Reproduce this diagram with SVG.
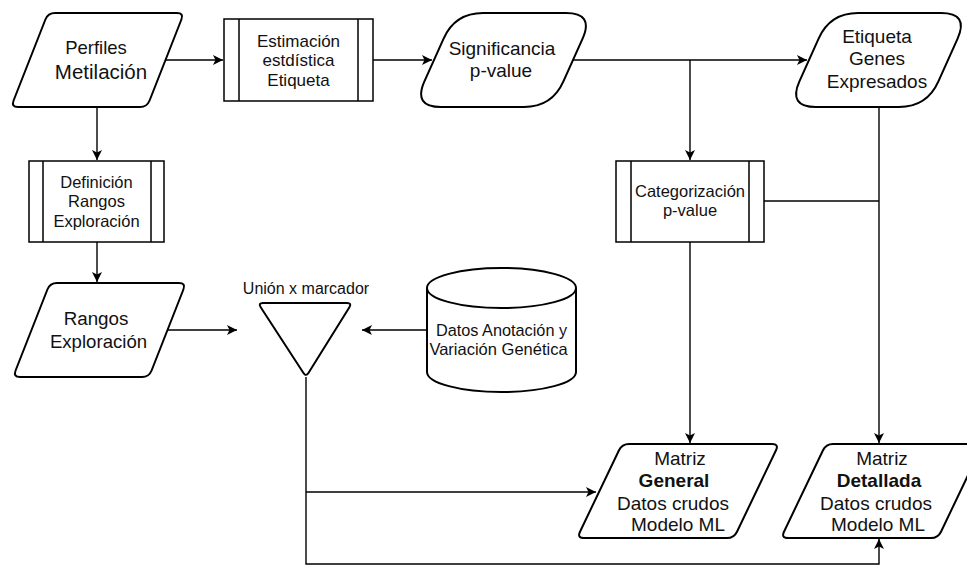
<svg xmlns="http://www.w3.org/2000/svg" width="967" height="566" viewBox="0 0 967 566">
<style>
.s{fill:#fff;stroke:#000;stroke-width:2;stroke-linejoin:round}
.b{fill:none;stroke:#000;stroke-width:1.5}
.c{fill:none;stroke:#000;stroke-width:1.4}
text{font-family:"Liberation Sans",Arial,sans-serif;fill:#111;text-anchor:middle}
.t17{font-size:17px}
.t165{font-size:16.5px}
.t19{font-size:19px}
.bold{font-weight:bold}
</style>
<defs>
<marker id="ar" viewBox="-11 -6 12 12" refX="0" refY="0" markerWidth="12" markerHeight="12" markerUnits="userSpaceOnUse" orient="auto">
<path d="M0,0 L-10,-5 L-7.5,0 L-10,5 Z" fill="#000"/>
</marker>
</defs>
<rect width="967" height="566" fill="#fff"/>
<g id="connectors">
<path class="c" d="M166,60 H223" marker-end="url(#ar)"/>
<path class="c" d="M373,60 H432" marker-end="url(#ar)"/>
<path class="c" d="M573,60 H807" marker-end="url(#ar)"/>
<path class="c" d="M690,60 V160" marker-end="url(#ar)"/>
<path class="c" d="M97,107 V160" marker-end="url(#ar)"/>
<path class="c" d="M97,242 V282" marker-end="url(#ar)"/>
<path class="c" d="M166,330 H237" marker-end="url(#ar)"/>
<path class="c" d="M427,330 H362" marker-end="url(#ar)"/>
<path class="c" d="M764,201 H879"/>
<path class="c" d="M690,242 V443" marker-end="url(#ar)"/>
<path class="c" d="M879,107 V443" marker-end="url(#ar)"/>
<path class="c" d="M306,377 V564 H879 V539" marker-end="url(#ar)"/>
<path class="c" d="M306,492 H596" marker-end="url(#ar)"/>
</g>
<g id="perfiles">
<path class="s" d="M55,13 H177 Q184,13 181.4,19.5 L149.6,100.5 Q147,107 140,107 H18 Q11,107 13.6,100.5 L45.4,19.5 Q48,13 55,13 Z"/>
<text x="96" y="54" style="font-size:18.5px">Perfiles</text>
<text x="101" y="79" style="font-size:20.5px">Metilación</text>
</g>
<g id="estimacion">
<rect class="b" x="224" y="19" width="149" height="82" fill="#fff" stroke-width="1.5"/>
<path class="b" d="M239,19 V101 M358,19 V101"/>
<text class="t17" x="298.5" y="47">Estimación</text>
<text class="t17" x="298.5" y="66">estdística</text>
<text class="t17" x="298.5" y="86">Etiqueta</text>
</g>
<g id="significancia">
<path class="s" d="M483,13 L566,13 Q594,13 582.6,38.6 L563.4,81.4 Q552,107 524,107 L441,107 Q413,107 424.4,81.4 L443.6,38.6 Q455,13 483,13 Z"/>
<text class="t19" x="502" y="55">Significancia</text>
<text class="t19" x="501" y="77">p-value</text>
</g>
<g id="etiqueta">
<path class="s" transform="translate(375,0)" d="M483,13 L566,13 Q594,13 582.6,38.6 L563.4,81.4 Q552,107 524,107 L441,107 Q413,107 424.4,81.4 L443.6,38.6 Q455,13 483,13 Z"/>
<text class="t19" x="877" y="43">Etiqueta</text>
<text class="t19" x="877" y="65">Genes</text>
<text class="t19" x="877" y="88">Expresados</text>
</g>
<g id="definicion">
<rect class="b" x="29" y="161" width="135" height="81" fill="#fff"/>
<path class="b" d="M43,161 V242 M151,161 V242"/>
<text class="t165" x="96.5" y="188">Definición</text>
<text class="t165" x="96.5" y="207">Rangos</text>
<text class="t165" x="96.5" y="227">Exploración</text>
</g>
<g id="categorizacion">
<rect class="b" x="616" y="161" width="148" height="81" fill="#fff"/>
<path class="b" d="M631,161 V242 M749,161 V242"/>
<text class="t165" x="690" y="197">Categorización</text>
<text class="t165" x="690" y="216">p-value</text>
</g>
<g id="rangos">
<path class="s" transform="translate(2,270)" d="M55,13 H177 Q184,13 181.4,19.5 L149.6,100.5 Q147,107 140,107 H18 Q11,107 13.6,100.5 L45.4,19.5 Q48,13 55,13 Z"/>
<text x="96" y="325" style="font-size:18.8px">Rangos</text>
<text x="98.5" y="348" style="font-size:18.6px">Exploración</text>
</g>
<g id="union">
<text x="306" y="294" style="font-size:16px">Unión x marcador</text>
<path class="s" d="M263,303 H347 Q352,303 349.4,307.3 L308.6,372.7 Q306,377 303.3,372.8 L260.7,307.2 Q258,303 263,303 Z"/>
</g>
<g id="datos">
<path class="s" d="M427,288 A74.5,20 0 0 1 576,288 V372 A74.5,20 0 0 1 427,372 Z"/>
<path class="s" fill="none" d="M427,288 A74.5,20 0 0 0 576,288"/>
<text x="501.5" y="336" style="font-size:16.3px">Datos Anotación y</text>
<text x="498.5" y="355" style="font-size:16.5px">Variación Genética</text>
</g>
<g id="matriz-general">
<path class="s" d="M629,444 H772 Q779,444 776,450.3 L737,531.7 Q734,538 727,538 H584 Q577,538 580,531.7 L619,450.3 Q622,444 629,444 Z"/>
<text class="t19" x="680" y="465">Matriz</text>
<text class="t19 bold" x="674" y="487">General</text>
<text class="t19" x="673" y="510">Datos crudos</text>
<text class="t19" x="678" y="531">Modelo ML</text>
</g>
<g id="matriz-detallada">
<path class="s" transform="translate(204,0)" d="M629,444 H772 Q779,444 776,450.3 L737,531.7 Q734,538 727,538 H584 Q577,538 580,531.7 L619,450.3 Q622,444 629,444 Z"/>
<text class="t19" x="882" y="465">Matriz</text>
<text class="t19 bold" x="879" y="487">Detallada</text>
<text class="t19" x="876" y="510">Datos crudos</text>
<text class="t19" x="878" y="531">Modelo ML</text>
</g>
</svg>
